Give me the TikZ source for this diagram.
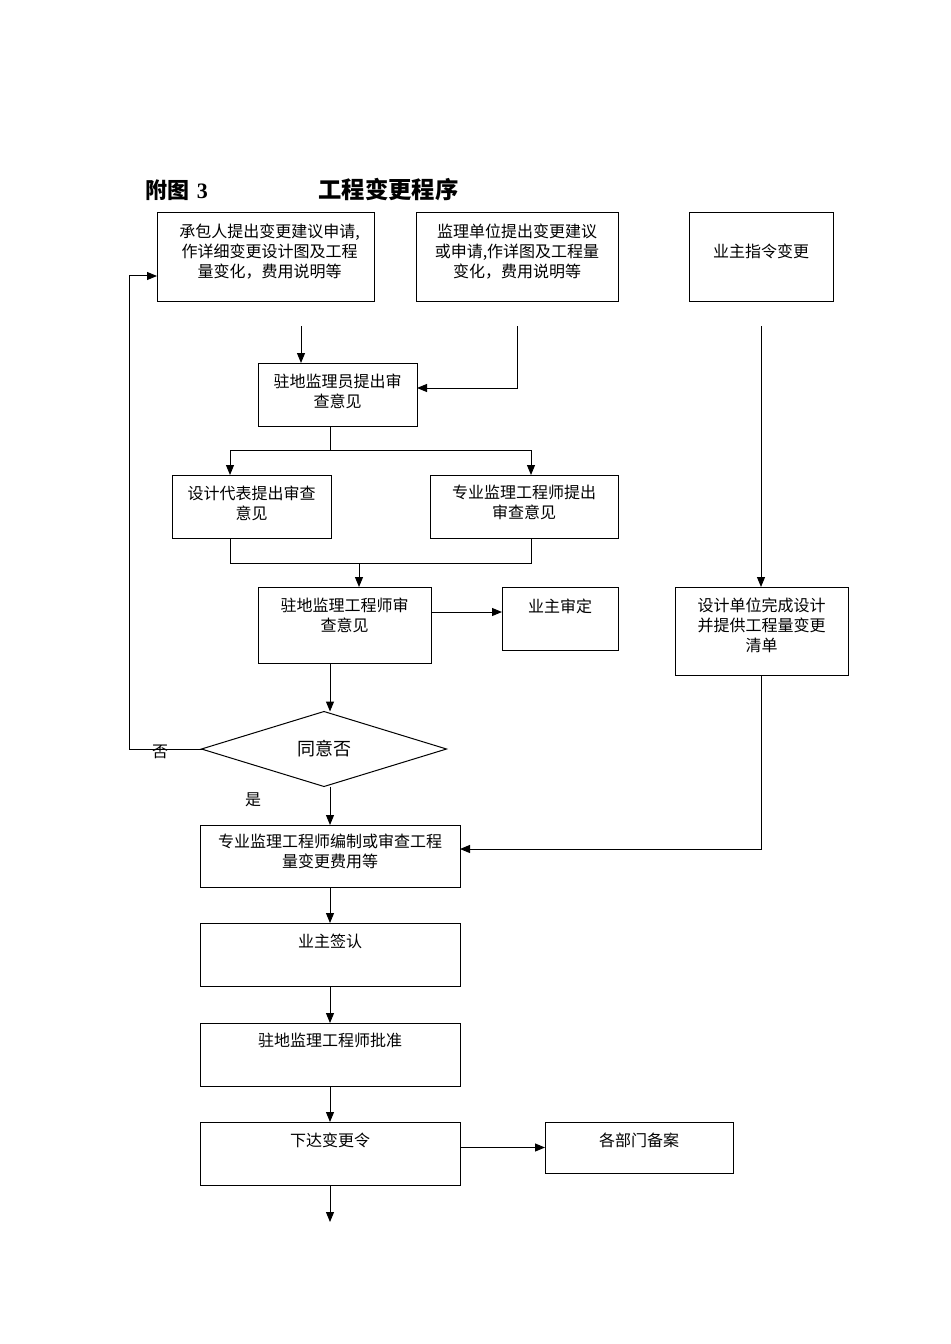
\documentclass[tikz,border=0pt]{standalone}
\usepackage{fontspec}
\newfontfamily\cjk{Noto Sans CJK SC}
\newfontfamily\tms{Liberation Serif}
\usetikzlibrary{shapes.geometric,arrows.meta,calc}
\begin{document}
\begin{tikzpicture}[x=0.75pt,y=-0.75pt,line width=0.75pt,
  bx/.style 2 args={draw,inner sep=0pt,outer sep=0pt,minimum width=#1*0.75pt,minimum height=#2*0.75pt},
  lbl/.style={font=\cjk\fontsize{12}{15}\selectfont,align=center,inner sep=0pt,anchor=north},
  tag/.style={font=\cjk\fontsize{12}{15}\selectfont,inner sep=0pt},
  arr/.style={-{Triangle[length=7.5pt,width=6pt]}}]
\useasboundingbox[fill=white] (0,0) rectangle (950,1344);
% title
\node[anchor=west,inner sep=0pt,font=\fontsize{16.5}{18}\selectfont] (t1) at (145,190) {{\cjk\bfseries 附图}\,\,{\tms\bfseries 3}};
\node[anchor=west,inner sep=0pt,font=\cjk\bfseries\fontsize{17.5}{18}\selectfont] (t2) at (318,190) {工程变更程序};
% boxes
\node[bx={217}{89}] (A) at (265.5,257.5) {};
\node[bx={202}{89}] (B) at (517,257.5) {};
\node[bx={144}{89}] (C) at (761,257.5) {};
\node[bx={159}{63}] (D) at (337.5,394.5) {};
\node[bx={159}{63}] (E) at (251.5,506.5) {};
\node[bx={188}{63}] (F) at (524,506.5) {};
\node[bx={173}{76}] (H) at (344.5,625) {};
\node[bx={116}{63}] (I) at (560,618.5) {};
\node[bx={173}{88}] (G) at (761.5,631) {};
\node[draw,diamond,inner sep=0pt,outer sep=0pt,minimum width=245*0.75pt,minimum height=75*0.75pt,font=\cjk\fontsize{13.5}{15}\selectfont] (Q) at (324,749) {同意否};
\node[bx={260}{62}] (J) at (330,856) {};
\node[bx={260}{63}] (K) at (330,954.5) {};
\node[bx={260}{63}] (L) at (330,1054.5) {};
\node[bx={260}{63}] (M) at (330,1153.5) {};
\node[bx={188}{51}] (N) at (639,1147.5) {};
% texts
\node[lbl] (tA) at ($(A.north)+(4,10)$) {承包人提出变更建议申请,\\作详细变更设计图及工程\\量变化，费用说明等};
\node[lbl] (tB) at ($(B.north)+(0,10)$) {监理单位提出变更建议\\或申请,作详图及工程量\\变化，费用说明等};
\node[lbl] (tC) at ($(C.north)+(0,30)$) {业主指令变更};
\node[lbl] (tD) at ($(D.north)+(0,10)$) {驻地监理员提出审\\查意见};
\node[lbl] (tE) at ($(E.north)+(0,10)$) {设计代表提出审查\\意见};
\node[lbl] (tF) at ($(F.north)+(0,10)$) {专业监理工程师提出\\审查意见};
\node[lbl] (tH) at ($(H.north)+(0,10)$) {驻地监理工程师审\\查意见};
\node[lbl] (tI) at ($(I.north)+(0,11)$) {业主审定};
\node[lbl] (tG) at ($(G.north)+(0,10)$) {设计单位完成设计\\并提供工程量变更\\清单};
\node[lbl] (tJ) at ($(J.north)+(0,8)$) {专业监理工程师编制或审查工程\\量变更费用等};
\node[lbl] (tK) at ($(K.north)+(0,10)$) {业主签认};
\node[lbl] (tL) at ($(L.north)+(0,10)$) {驻地监理工程师批准};
\node[lbl] (tM) at ($(M.north)+(0,10)$) {下达变更令};
\node[lbl] (tN) at ($(N.north)+(0,10)$) {各部门备案};
\node[tag] (no) at (160,752) {否};
\node[tag] (yes) at (253,800) {是};
% free ends
\coordinate (a1) at (301,326);
\coordinate (b1) at (517,326);
\coordinate (c1) at (761,326);
\coordinate (s1) at (330,450);
\coordinate (s2) at (230,563);
\coordinate (s3) at (531,563);
\coordinate (s4) at (359,563);
\coordinate (z) at (330,1222);
% connectors
\draw[arr] (a1) -- (a1 |- D.north);
\draw[arr] (b1) |- ($(D.east)+(0,-6.5)$);
\draw[arr] (c1) -- (c1 |- G.north);
\draw (D.south -| s1) -- (s1);
\draw[arr] (s1) -| (E.north -| 230,0);
\draw[arr] (s1) -| (F.north -| 531,0);
\draw (E.south -| s2) -- (s2) -- (s3) -- (F.south -| s3);
\draw[arr] (s4) -- (H.north -| s4);
\draw[arr] (H.east |- 0,612) -- (I.west |- 0,612);
\draw[arr] (H.south -| 330,0) -- (Q.north -| 330,0);
\draw[arr] (Q.west) -- (129,749) -- (129,276) -- (A.west |- 0,276);
\draw[arr] (Q.south -| 330,0) -- (J.north -| 330,0);
\draw[arr] (G.south) |- (J.east |- 0,849);
\draw[arr] (J.south) -- (K.north);
\draw[arr] (K.south) -- (L.north);
\draw[arr] (L.south) -- (M.north);
\draw[arr] (M.east |- N.west) -- (N.west);
\draw[arr] (M.south) -- (z);
\end{tikzpicture}
\end{document}
